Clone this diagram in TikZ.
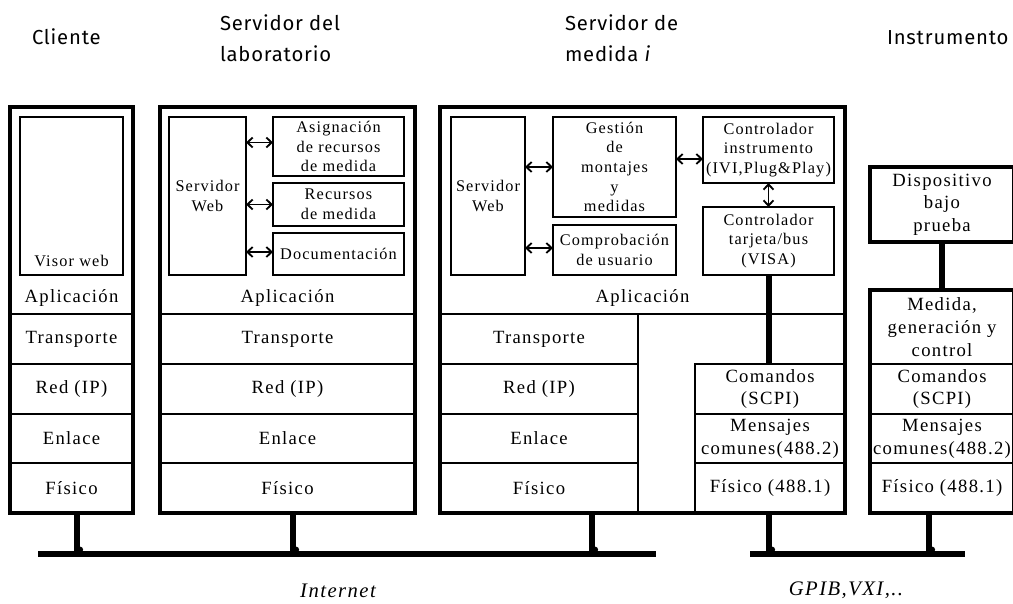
\documentclass[tikz,border=0pt]{standalone}
\usepackage{fontspec}
\setmainfont{Liberation Serif}
\newfontfamily\lyrfont[LetterSpace=7]{Liberation Serif}
\newfontfamily\ttlfont[LetterSpace=4]{Fira Sans}
\usetikzlibrary{arrows.meta,fit}

\tikzset{
  every node/.style={inner sep=0pt, outer sep=0pt},
  big/.style={font=\fontsize{14}{17}\lyrfont, align=center},
  sml/.style={font=\fontsize{12.2}{14.7}\lyrfont, align=center},
  cell/.style={draw, line width=1.1pt},
  ibox/.style={draw, line width=1.1pt},
  obox/.style={draw, line width=2.3pt},
  thk/.style={line width=4.5pt},
  bus/.style={line width=4.6pt},
  drop/.style={line width=3.8pt},
  lnk/.style={line width=1.4pt,
    {Straight Barb[length=4pt,width=7.5pt]}-{Straight Barb[length=4pt,width=7.5pt]}},
  ttl/.style={font=\fontsize{15.2}{23}\ttlfont, align=left, text=black},
  netlbl/.style={font=\fontsize{15.5}{18}\lyrfont\itshape},
}

% a framed box (name, corners, frame style, text style, text)
\newcommand\framedcell[5]{%
  \node[#3, fit={#2}] (#1) {};
  \node[#4] (#1T) at (#1.center) {#5};}

\begin{document}
\begin{tikzpicture}[x=0.75pt, y=-0.75pt]
\fill[white] (0,0) rectangle (1013,603);
\useasboundingbox (0,0) rectangle (1013,603);

% ---------- titles ----------
\node[ttl, anchor=west] (tCli) at (32,37) {Cliente};
\node[ttl, anchor=west] (tLab) at (220,38.5) {Servidor del\\laboratorio};
\node[ttl, anchor=west] (tMed) at (565,38.5) {Servidor de\\medida \textit{i}};
\node[ttl, anchor=west] (tIns) at (887,38) {Instrumento};

% ---------- client ----------
\node[cell, fit={(10,107)(133,314)}] (cApp) {};
\node[big] (cAppT) at (71.5,298) {Aplicación};
\node[ibox, fit={(20,117)(123,275)}] (visor) {};
\node[sml] (visorT) at (71.5,261) {Visor web};
\framedcell{cTr}{(10,314)(133,364)}{cell}{big}{Transporte}
\framedcell{cRed}{(10,364)(133,414)}{cell}{big}{Red (IP)}
\framedcell{cEnl}{(10,414)(133,463)}{cell}{big}{Enlace}
\framedcell{cFis}{(10,463)(133,513)}{cell}{big}{Físico}
\node[obox, fit={(10,107)(133,513)}] (cli) {};

% ---------- laboratory server ----------
\node[cell, fit={(160,107)(415,314)}] (lApp) {};
\node[big] (lAppT) at (287.5,298) {Aplicación};
\framedcell{labweb}{(169,117)(246,275)}{ibox}{sml}{Servidor\\Web}
\framedcell{asig}{(273,117)(404,176)}{ibox}{sml}{Asignación\\de recursos\\de medida}
\framedcell{recs}{(273,183)(404,226)}{ibox}{sml}{Recursos\\de medida}
\framedcell{docu}{(273,233)(404,275)}{ibox}{sml}{Documentación}
\draw[lnk] ([yshift=3pt]asig.west -| labweb.east) -- ([yshift=3pt]asig.west);
\draw[lnk] (recs.west -| labweb.east) -- (recs.west);
\draw[lnk] ([yshift=1.5pt]docu.west -| labweb.east) -- ([yshift=1.5pt]docu.west);
\framedcell{lTr}{(160,314)(415,364)}{cell}{big}{Transporte}
\framedcell{lRed}{(160,364)(415,414)}{cell}{big}{Red (IP)}
\framedcell{lEnl}{(160,414)(415,463)}{cell}{big}{Enlace}
\framedcell{lFis}{(160,463)(415,513)}{cell}{big}{Físico}
\node[obox, fit={(160,107)(415,513)}] (lab) {};

% ---------- measurement server ----------
\node[cell, fit={(440,107)(845,314)}] (mApp) {};
\node[big] (mAppT) at (642.5,298) {Aplicación};
\framedcell{medweb}{(451,117)(525,275)}{ibox}{sml}{Servidor\\Web}
\framedcell{gest}{(553,117)(676,217)}{ibox}{sml}{Gestión\\de\\montajes\\y\\medidas}
\framedcell{comp}{(553,225)(676,275)}{ibox}{sml}{Comprobación\\de usuario}
\framedcell{ctrlA}{(703,117)(834,183)}{ibox}{sml}{Controlador\\instrumento\\(IVI,Plug\&Play)}
\framedcell{ctrlB}{(703,207)(834,275)}{ibox}{sml}{Controlador\\tarjeta/bus\\(VISA)}
\draw[lnk] (gest.west -| medweb.east) -- (gest.west);
\draw[lnk] ([yshift=1.5pt]comp.west -| medweb.east) -- ([yshift=1.5pt]comp.west);
\draw[lnk] ([yshift=-6.75pt]ctrlA.west -| gest.east) -- ([yshift=-6.75pt]ctrlA.west);
\draw[lnk] (ctrlA.south) -- (ctrlB.north);
\framedcell{mTr}{(440,314)(638,364)}{cell}{big}{Transporte}
\framedcell{mRed}{(440,364)(638,414)}{cell}{big}{Red (IP)}
\framedcell{mEnl}{(440,414)(638,463)}{cell}{big}{Enlace}
\framedcell{mFis}{(440,463)(638,513)}{cell}{big}{Físico}
\framedcell{mCom}{(695,364)(845,414)}{cell}{big}{Comandos\\(SCPI)}
\framedcell{mMsg}{(695,414)(845,463)}{cell}{big}{Mensajes\\comunes(488.2)}
\framedcell{mGp}{(695,463)(845,513)}{cell}{big}{Físico (488.1)}
\draw[thk] (ctrlB.south) -- (ctrlB.south |- mCom.north);
\node[obox, fit={(440,107)(845,513)}] (med) {};

% ---------- instrument ----------
\framedcell{dut}{(870,167)(1014,242)}{obox}{big}{Dispositivo\\bajo\\prueba}
\framedcell{iMed}{(870,290)(1014,364)}{cell}{big}{Medida,\\generación y\\control}
\framedcell{iCom}{(870,364)(1014,414)}{cell}{big}{Comandos\\(SCPI)}
\framedcell{iMsg}{(870,414)(1014,463)}{cell}{big}{Mensajes\\comunes(488.2)}
\framedcell{iFis}{(870,463)(1014,513)}{cell}{big}{Físico (488.1)}
\node[obox, fit={(870,290)(1014,513)}] (ins) {};
\draw[thk] (dut.south) -- (ins.north);

% ---------- buses ----------
\coordinate (iL) at (38,554);
\coordinate (iR) at (656,554);
\coordinate (gL) at (750,554);
\coordinate (gR) at (965,554);
\coordinate (jC) at (77,554);
\coordinate (jL) at (293,554);
\coordinate (jM) at (592,554);
\coordinate (jG) at (769,554);
\coordinate (jI) at (929,554);
\draw[drop] (cli.south -| jC) -- (jC);
\draw[drop] (lab.south -| jL) -- (jL);
\draw[drop] (med.south -| jM) -- (jM);
\draw[drop] (med.south -| jG) -- (jG);
\draw[drop] (ins.south -| jI) -- (jI);
\draw[bus] (iL) -- (iR);
\draw[bus] (gL) -- (gR);
\foreach \j in {jC,jL,jM,jG,jI}
  \fill ([xshift=2.2pt,yshift=3.2pt]\j) circle (2.4pt);

\node[netlbl] (inetT) at (338,591) {Internet};
\node[netlbl] (gpibT) at (846,590) {GPIB,VXI,..};
\end{tikzpicture}
\end{document}
